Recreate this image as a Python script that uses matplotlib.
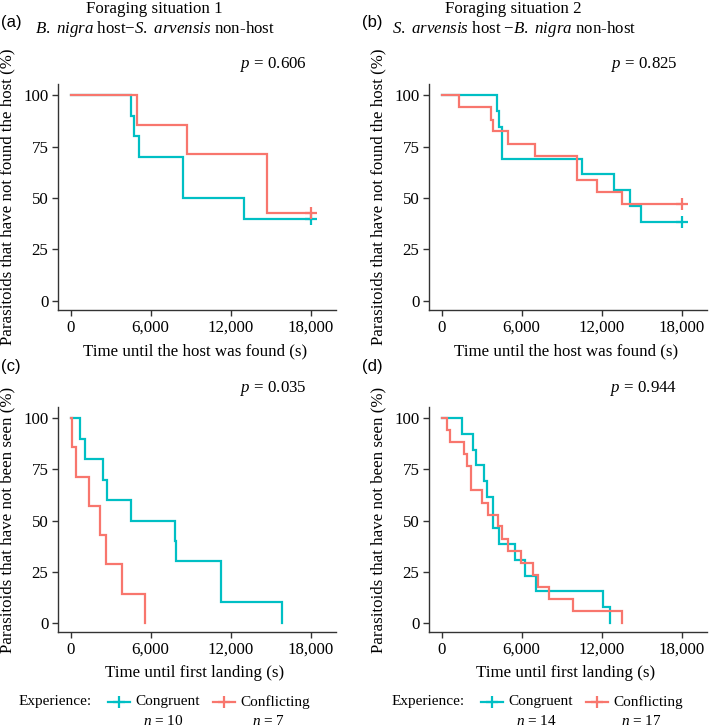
import matplotlib
matplotlib.use("Agg")
import matplotlib.pyplot as plt
from matplotlib.lines import Line2D

plt.rcParams['font.family'] = ['Liberation Serif', 'DejaVu Serif']
plt.rcParams['mathtext.fontset'] = 'custom'
plt.rcParams['mathtext.rm'] = 'Liberation Serif'
plt.rcParams['mathtext.it'] = 'Liberation Serif:italic'

CYAN = '#00BFC4'
RED = '#F8766D'

# survival curves (time in s, % remaining)
a_cong_t = [0, 4550, 4730, 5100, 8430, 13020, 18000]
a_cong_s = [100, 90, 80, 70, 50, 40, 40]
a_conf_t = [0, 4980, 8690, 14750, 18000]
a_conf_s = [100, 85.7, 71.4, 42.9, 42.9]

b_cong_t = [0, 4175, 4300, 4550, 10550, 12950, 14125, 14950, 18000]
b_cong_s = [100, 92.3, 84.6, 69.2, 61.5, 53.8, 46.2, 38.5, 38.5]
b_conf_t = [0, 1325, 3700, 3875, 5000, 6975, 10175, 11675, 13525, 18000]
b_conf_s = [100, 94.1, 88.2, 82.4, 76.5, 70.6, 58.8, 52.9, 47.1, 47.1]

c_cong_t = [0, 725, 1100, 2425, 2725, 4550, 7800, 7875, 11250, 15875]
c_cong_s = [100, 90, 80, 70, 60, 50, 40, 30, 10, 0]
c_conf_t = [0, 100, 425, 1375, 2175, 2675, 3875, 5600]
c_conf_s = [100, 85.7, 71.4, 57.1, 42.9, 28.6, 14.3, 0]

d_cong_t = [0, 1500, 2375, 2575, 3200, 3375, 3825, 4325, 5500, 6275, 7075, 12075, 12625]
d_cong_s = [100, 92.3, 84.6, 76.9, 69.2, 61.5, 46.2, 38.5, 30.8, 23.1, 15.4, 7.7, 0]
d_conf_t = [0, 375, 650, 1700, 1875, 2200, 3000, 3450, 4250, 4525, 5000, 5950, 6825,
            7200, 8075, 9825, 13525]
d_conf_s = [100, 94.1, 88.2, 82.4, 76.5, 64.7, 58.8, 52.9, 47.1, 41.2, 35.3, 29.4, 23.5,
            17.6, 11.8, 5.9, 0]

p_values = ['0.606', '0.825', '0.035', '0.944']
n_left = [10, 7]
n_right = [14, 17]
x_ticks = [0, 6000, 12000, 18000]
y_ticks = [0, 25, 50, 75, 100]

W, H = 709, 728
FS = 12.2


def fx(x):
    return x / W


def fy(y):
    return 1 - y / H


def style_axis(ax):
    ax.set_xlim(-950, 19900)
    ax.set_ylim(-4.5, 105.5)
    for s in ['top', 'right']:
        ax.spines[s].set_visible(False)
    for s in ['left', 'bottom']:
        ax.spines[s].set_color('#333333')
        ax.spines[s].set_linewidth(1.0)
    ax.set_xticks(x_ticks)
    ax.set_xticklabels([f'{v:,}' for v in x_ticks])
    ax.set_yticks(y_ticks)
    ax.tick_params(axis='both', direction='out', length=4, width=1.0, color='#333333',
                   labelsize=FS, pad=3, labelcolor='black')


def draw(ax, t1, s1, t2, s2, censor):
    ax.step(t1, s1, where='post', color=CYAN, lw=1.6, solid_joinstyle='miter')
    ax.step(t2, s2, where='post', color=RED, lw=1.6, solid_joinstyle='miter')
    if censor:
        ax.plot([t1[-1]], [s1[-1]], ls='none', marker='+', ms=9, mew=1.6, color=CYAN)
        ax.plot([t2[-1]], [s2[-1]], ls='none', marker='+', ms=9, mew=1.6, color=RED)
    style_axis(ax)


fig = plt.figure(figsize=(W / 100, H / 100), dpi=100)

left_x = [58, 429]
letter_x = [1, 362]
tops = [84, 407]
bottoms = [310, 632]
axw = [336 - 58, 707 - 429]

panels = [
    (a_cong_t, a_cong_s, a_conf_t, a_conf_s, True),
    (b_cong_t, b_cong_s, b_conf_t, b_conf_s, True),
    (c_cong_t, c_cong_s, c_conf_t, c_conf_s, False),
    (d_cong_t, d_cong_s, d_conf_t, d_conf_s, False),
]
letters = ['(a)', '(b)', '(c)', '(d)']
ylabels = ['Parasitoids that have not found the host (%)',
           'Parasitoids that have not been seen (%)']
xlabels = ['Time until the host was found (s)', 'Time until first landing (s)']

for i, (t1, s1, t2, s2, cens) in enumerate(panels):
    row, col = divmod(i, 2)
    x0 = left_x[col]
    y0, y1 = tops[row], bottoms[row]
    ax = fig.add_axes([fx(x0), fy(y1), axw[col] / W, (y1 - y0) / H])
    draw(ax, t1, s1, t2, s2, cens)

    # y label, x label, p value
    fig.text(fx(x0 - 51), fy((y0 + y1) / 2), ylabels[row], rotation=90,
             ha='center', va='center', fontsize=FS)
    fig.text(fx(x0 + 137), fy(y1 + 41), xlabels[row], ha='center', va='center', fontsize=FS)
    fig.text(fx(x0 + 215), fy(y0 - 19), f'$p$ = {p_values[i]}', ha='center', va='center',
             fontsize=FS)
    ly = 22 if row == 0 else 367
    fig.text(fx(letter_x[col]), fy(ly), letters[i], ha='left', va='center', fontsize=12,
             family=['Liberation Sans', 'DejaVu Sans'])

# column headers
fig.text(fx(154), fy(9), 'Foraging situation 1', ha='center', va='center', fontsize=FS)
fig.text(fx(155), fy(29), r'$\mathit{B.\ nigra}$ host$-$$\mathit{S.\ arvensis}$ non-host',
         ha='center', va='center', fontsize=FS)
fig.text(fx(513), fy(9), 'Foraging situation 2', ha='center', va='center', fontsize=FS)
fig.text(fx(514), fy(29), r'$\mathit{S.\ arvensis}$ host $-$$\mathit{B.\ nigra}$ non-host',
         ha='center', va='center', fontsize=FS)

# legends under the bottom panels
LFS = 11
for x0, ns in [(19, n_left), (392, n_right)]:
    fig.text(fx(x0), fy(702), 'Experience:', ha='left', va='center', fontsize=LFS)
    for k, (col, lab) in enumerate([(CYAN, 'Congruent'), (RED, 'Conflicting')]):
        mx = x0 + 100 + k * 105
        fig.add_artist(Line2D([fx(mx - 11), fx(mx + 11)], [fy(702), fy(702)],
                              color=col, lw=1.6, transform=fig.transFigure))
        fig.add_artist(Line2D([fx(mx)], [fy(702)], marker='+', ms=9, mew=1.6,
                              color=col, ls='none', transform=fig.transFigure))
        fig.text(fx(mx + 16), fy(702), lab, ha='left', va='center', fontsize=LFS)
        fig.text(fx(mx + 44), fy(721), f'$n$ = {ns[k]}', ha='center', va='center',
                 fontsize=LFS)

fig.savefig('out.png', dpi=100)
